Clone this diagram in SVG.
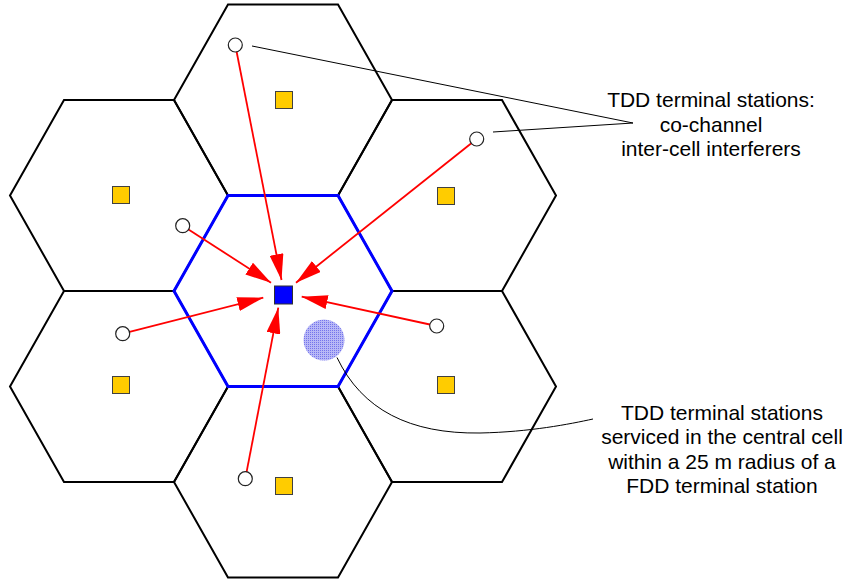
<svg xmlns="http://www.w3.org/2000/svg" width="852" height="581" viewBox="0 0 852 581">
  <style>
    .cell { fill: none; stroke: #000; stroke-width: 2; stroke-linejoin: miter; }
    .central { fill: none; stroke: #0000ff; stroke-width: 3; }
    .bs { fill: #ffcc00; stroke: #404040; stroke-width: 1; }
    .bs-main { fill: #0000ff; stroke: #303030; stroke-width: 1; }
    .ts { fill: #fff; stroke: #222; stroke-width: 1.2; }
    .intf { stroke: #ff0000; stroke-width: 1.8; fill: none; marker-end: url(#head); }
    .note { stroke: #000; stroke-width: 1; fill: none; }
    .label { font-family: "Liberation Sans", Arial, sans-serif; font-size: 21px; fill: #000; text-anchor: middle; }
  </style>
  <defs>
    <polygon id="hex" points="-55,-95.5 55,-95.5 109,0 55,95.5 -55,95.5 -109,0"/>
    <marker id="head" markerUnits="userSpaceOnUse" markerWidth="26" markerHeight="14" viewBox="0 0 26 14" refX="26" refY="7" orient="auto">
      <path d="M0,0 L26,7 L0,14 Z" fill="#ff0000"/>
    </marker>
    <pattern id="dots" width="2" height="2" patternUnits="userSpaceOnUse">
      <rect width="2" height="2" fill="#b8b8f6"/>
      <rect width="1" height="1" fill="#7474ec"/>
    </pattern>
  </defs>

  <!-- surrounding cells -->
  <g id="cell-top"><use href="#hex" class="cell" transform="translate(283,100)"/><rect class="bs" x="275.5" y="91.5" width="17" height="17"/></g>
  <g id="cell-upper-left"><use href="#hex" class="cell" transform="translate(119,195.5)"/><rect class="bs" x="112.5" y="186.5" width="17" height="17"/></g>
  <g id="cell-upper-right"><use href="#hex" class="cell" transform="translate(447,195.5)"/><rect class="bs" x="437.5" y="187.5" width="17" height="17"/></g>
  <g id="cell-lower-left"><use href="#hex" class="cell" transform="translate(119,386.5)"/><rect class="bs" x="112.5" y="376.5" width="17" height="17"/></g>
  <g id="cell-lower-right"><use href="#hex" class="cell" transform="translate(447,386.5)"/><rect class="bs" x="437.5" y="376.5" width="17" height="17"/></g>
  <g id="cell-bottom"><use href="#hex" class="cell" transform="translate(283,482)"/><rect class="bs" x="275.5" y="477.5" width="17" height="17"/></g>

  <!-- central cell -->
  <g id="cell-central">
    <use href="#hex" class="central" transform="translate(283,291)"/>
    <rect class="bs-main" x="274.5" y="286" width="18" height="18"/>
  </g>

  <!-- serviced terminal zone -->
  <g id="zone">
    <circle cx="324" cy="340" r="20.5" fill="url(#dots)"/>
  </g>

  <!-- interference paths and leader lines -->
  <g id="connectors">
    <line class="intf" x1="235.3" y1="45" x2="281.5" y2="280"/>
    <line class="intf" x1="182.7" y1="225.7" x2="271" y2="282.7"/>
    <line class="intf" x1="476.7" y1="139" x2="296" y2="282.7"/>
    <line class="intf" x1="122.7" y1="333.7" x2="263.3" y2="297.7"/>
    <line class="intf" x1="436.7" y1="326" x2="301.7" y2="296.7"/>
    <line class="intf" x1="245.3" y1="478.7" x2="278.3" y2="307.7"/>
    <polyline class="note" points="252,46 633,123 493,132"/>
    <path class="note" d="M337,357.5 C362,410 410,434 480,433 C530,432 570,424 593,419"/>
  </g>

  <!-- terminal stations -->
  <g id="terminals">
    <circle class="ts" cx="235.3" cy="45" r="7"/>
    <circle class="ts" cx="182.7" cy="225.7" r="7"/>
    <circle class="ts" cx="476.7" cy="139" r="7"/>
    <circle class="ts" cx="122.7" cy="333.7" r="7"/>
    <circle class="ts" cx="436.7" cy="326" r="7"/>
    <circle class="ts" cx="245.3" cy="478.7" r="7"/>
  </g>

  <g id="label-interferers">
    <text class="label" x="711" y="107">TDD terminal stations:</text>
    <text class="label" x="711" y="131.5">co-channel</text>
    <text class="label" x="711" y="156">inter-cell interferers</text>
  </g>
  <g id="label-serviced">
    <text class="label" x="722" y="420">TDD terminal stations</text>
    <text class="label" x="722" y="444.3">serviced in the central cell</text>
    <text class="label" x="722" y="468.7">within a 25 m radius of a</text>
    <text class="label" x="722" y="493">FDD terminal station</text>
  </g>
</svg>
